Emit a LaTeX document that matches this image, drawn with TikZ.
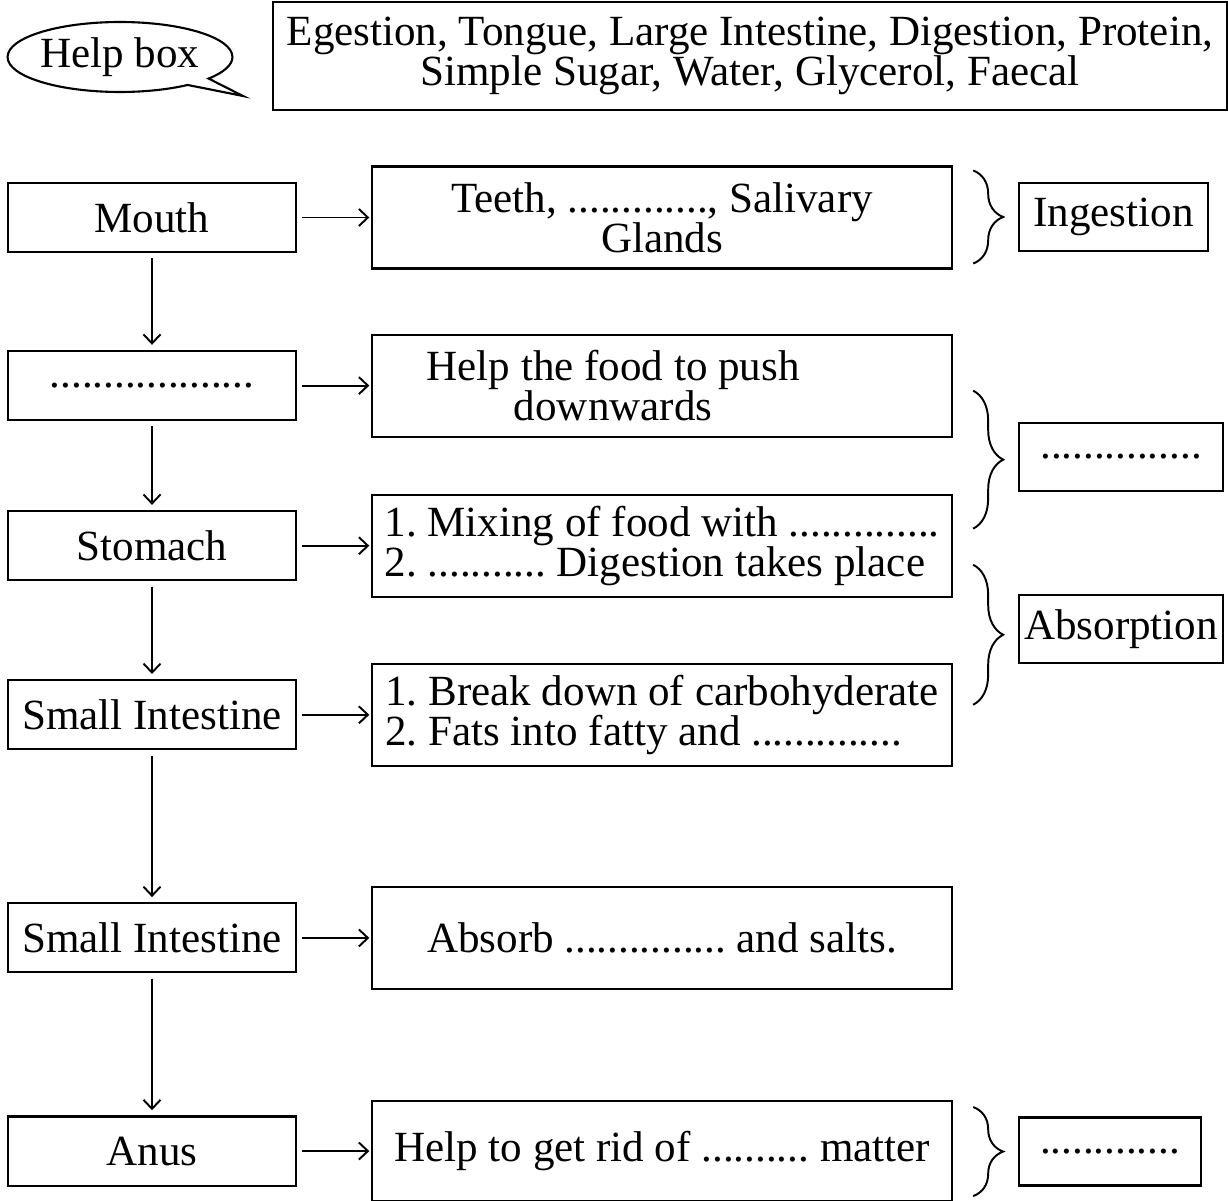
\documentclass[tikz,border=0pt]{standalone}
\usepackage{fontspec}
\setmainfont{Liberation Serif}
\frenchspacing
\usepackage{tikz}
\usetikzlibrary{arrows.meta, positioning, shapes.callouts, decorations.pathreplacing}

\begin{document}
\begin{tikzpicture}[
    font=\fontsize{24.5}{22.8}\selectfont,
    organ/.style={
        draw, line width=1.2pt, rectangle,
        minimum width=5.76cm, minimum height=1.38cm,
        inner sep=0pt, align=center,
    },
    task/.style={
        draw, line width=1.2pt, rectangle,
        minimum width=11.6cm, minimum height=2.04cm,
        inner sep=0pt, align=center,
    },
    stage/.style={
        draw, line width=1.2pt, rectangle,
        minimum height=1.36cm, inner sep=0pt, anchor=west,
    },
    arr/.style={
        -{Straight Barb[length=1.8mm, width=3.4mm]}, line width=1.1pt,
    },
    brc/.style={
        decorate, decoration={brace, amplitude=0.6cm}, line width=1.1pt,
    },
]
\useasboundingbox (0,0) rectangle (24.56,-24.02);

\node[ellipse callout, draw, line width=1.2pt, minimum width=4.48cm, minimum height=1.4cm,
      inner sep=0pt, callout absolute pointer={(4.86,-1.92)}] (help) at (2.4,-1.14) {Help box};
\node[draw, line width=1.2pt, minimum width=19.08cm, minimum height=2.16cm, inner sep=0pt,
      align=center] (words) at (15.0,-1.12)
      {Egestion, Tongue, Large Intestine, Digestion, Protein,\\Simple Sugar, Water, Glycerol, Faecal};

\node[organ] (mouth) at (3.04,-4.35) {Mouth};
\node[organ, below=1.94cm of mouth] (gullet) {...................};
\node[organ, below=1.78cm of gullet] (stomach) {Stomach};
\node[organ, below=1.96cm of stomach] (smallint) {Small Intestine};
\node[organ, below=3.04cm of smallint] (largeint) {Small Intestine};
\node[organ, below=2.84cm of largeint] (anus) {Anus};

\node[task, right=1.48cm of mouth] (teeth) {Teeth, ............., Salivary\\Glands};
\node[task, right=1.48cm of gullet] (push) {};
\node[align=center] (pushtext) at ([xshift=-0.98cm]push.center) {Help the food to push\\downwards};
\node[task, right=1.48cm of stomach, align=left] (mixing)
      {1. Mixing of food with ..............\\2. ........... Digestion takes place};
\node[task, right=1.48cm of smallint, align=left] (breakdown)
      {1. Break down of carbohyderate\\2. Fats into fatty and ..............};
\node[task, right=1.48cm of largeint] (absorb) {Absorb ............... and salts.};
\node[task, right=1.48cm of anus, minimum height=2.0cm] (rid) {Help to get rid of .......... matter};

\foreach \a/\b in {mouth/gullet, gullet/stomach, stomach/smallint, smallint/largeint, largeint/anus}
    \draw[arr, shorten <=3pt, shorten >=3pt] (\a) -- (\b);
\foreach \a/\b in {mouth/teeth, gullet/push, stomach/mixing, smallint/breakdown, largeint/absorb, anus/rid}
    \draw[arr, shorten <=3pt, shorten >=1pt] (\a) -- (\b);

\coordinate (b1t) at ([xshift=0.4cm, yshift=-0.1cm]teeth.north east);
\coordinate (b1b) at ([xshift=0.4cm, yshift=0.12cm]teeth.south east);
\coordinate (b2t) at ([xshift=0.4cm, yshift=0.94cm]push.south east);
\coordinate (b2b) at ([xshift=0.4cm, yshift=-0.7cm]mixing.north east);
\coordinate (b3t) at ([xshift=0.4cm, yshift=0.66cm]mixing.south east);
\coordinate (b3b) at ([xshift=0.4cm, yshift=-0.84cm]breakdown.north east);
\coordinate (b4t) at ([xshift=0.4cm, yshift=-0.14cm]rid.north east);
\coordinate (b4b) at ([xshift=0.4cm, yshift=0.12cm]rid.south east);
\foreach \t/\b in {b1t/b1b, b2t/b2b, b3t/b3b, b4t/b4b}
    \draw[brc] (\t) -- (\b);

\node[stage, minimum width=3.78cm] (ingest) at (20.36,-4.34) {Ingestion};
\node[stage, minimum width=4.08cm] (digest) at (20.36,-9.14) {...............};
\node[stage, minimum width=4.08cm] (absorption) at (20.36,-12.58) {Absorption};
\node[stage, minimum width=3.64cm] (egest) at (20.36,-23.03) {.............};
\end{tikzpicture}
\end{document}
